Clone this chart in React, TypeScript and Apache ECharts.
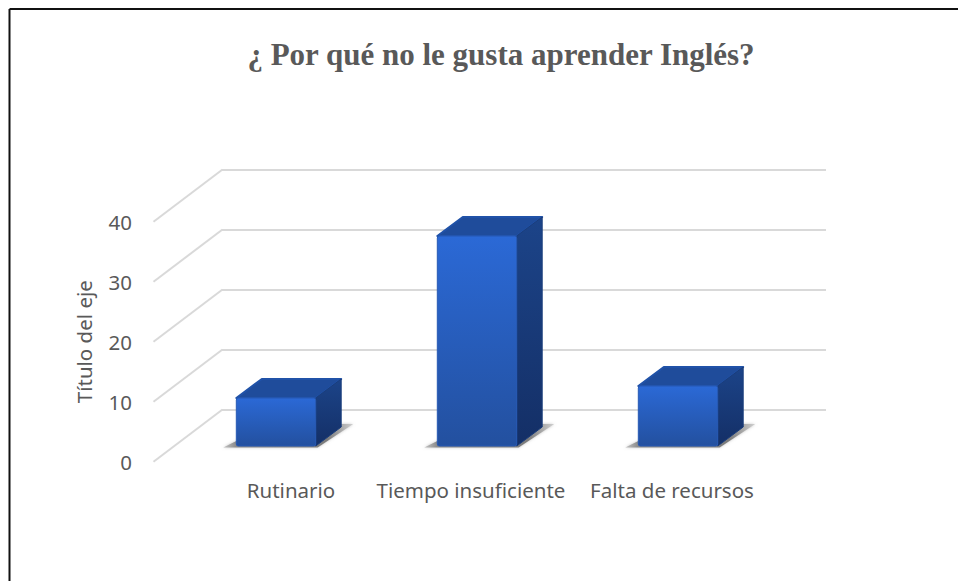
import React, { useEffect, useRef } from "react";
import * as echarts from "echarts";

const titleText = "¿ Por qué no le gusta aprender Inglés?";
const yAxisTitle = "Título del eje";
const categories = ["Rutinario", "Tiempo insuficiente", "Falta de recursos"];
const values = [8, 35, 10];
const labelShifts = [30, -12, -12];
const yTicksMax = 40;
const yTickStep = 10;

const GREY = "#595959";
const FONT = "'Noto Sans', 'Open Sans', sans-serif";
const grad = (a: string, b: string) => new echarts.graphic.LinearGradient(0, 0, 0, 1, [
  { offset: 0, color: a },
  { offset: 1, color: b },
]);

function renderBar(_p: any, api: any) {
  const i = api.value(0);
  const v = api.value(1);
  const [cx, yTop] = api.coord([i, v]);
  const [, y0] = api.coord([i, 0]);
  const w = api.size([1, 0])[0] * 0.395;
  const xl = cx - w / 2;
  const xr = cx + w / 2;
  const dx = 25.5;
  const dy = -19;
  return {
    type: "group",
    children: [
      {
        type: "polygon",
        shape: { points: [[xl - 13, y0 + 1.5], [xr + 2, y0 + 1.5], [xr + dx + 12, y0 + dy - 3], [xr + dx - 2, y0 + dy - 3], [xl, y0 - 5]] },
        style: {
          fill: new echarts.graphic.LinearGradient(0, 0, 1, 0, [
            { offset: 0, color: "#c4c4c4" },
            { offset: 0.1, color: "#8a8a8a" },
            { offset: 0.8, color: "#7c7c7c" },
            { offset: 1, color: "#d0d0d0" },
          ]),
          shadowBlur: 3,
          shadowColor: "rgba(160,160,160,0.6)",
        },
      },
      {
        type: "polygon",
        shape: { points: [[xl, yTop], [xl + dx, yTop + dy], [xr + dx, yTop + dy], [xr, yTop]] },
        style: { fill: "#1f4c9b", stroke: "#2052a8", lineWidth: 2, lineJoin: "round" },
      },
      {
        type: "polygon",
        shape: { points: [[xr, yTop], [xr + dx, yTop + dy], [xr + dx, y0 + dy], [xr, y0]] },
        style: { fill: grad("#1c4489", "#142f66"), stroke: "#1a3d7c", lineWidth: 1, lineJoin: "round" },
      },
      {
        type: "rect",
        shape: { x: xl, y: yTop, width: w, height: y0 - yTop, r: 2 },
        style: { fill: grad("#2b69d6", "#23509f"), stroke: "#2759b4", lineWidth: 1 },
      },
    ],
  };
}

export default function App() {
  const ref = useRef<HTMLDivElement>(null);
  useEffect(() => {
    document.body.style.margin = "0";
    const chart = echarts.init(ref.current!, undefined, { renderer: "svg" });
    chart.setOption({
      animation: false,
      backgroundColor: "#ffffff",
      title: {
        text: titleText,
        left: 496,
        top: 34,
        textAlign: "center",
        textStyle: { fontFamily: "'Liberation Serif', serif", fontWeight: "bold", fontSize: 31, color: GREY },
      },
      grid: [
        { left: 222, top: 169.5, width: 604, height: 240 },
        { left: 153, top: 221.7, width: 69, height: 240 },
        { left: 175.5, top: 206, width: 603, height: 240 },
      ],
      xAxis: [
        { gridIndex: 0, type: "category", show: false, data: categories },
        { gridIndex: 1, type: "category", show: false, data: categories },
        {
          gridIndex: 2,
          type: "category",
          data: categories.map((c, i) => ({
            value: c,
            textStyle: labelShifts[i] > 0 ? { padding: [0, 0, 0, labelShifts[i]] } : { padding: [0, -labelShifts[i], 0, 0] },
          })),
          axisLine: { show: false },
          axisTick: { show: false },
          axisLabel: { color: GREY, fontFamily: FONT, fontSize: 20.5, margin: 33, interval: 0 },
        },
      ],
      yAxis: [
        {
          gridIndex: 0,
          type: "value",
          min: 0,
          max: yTicksMax,
          interval: yTickStep,
          axisLine: { show: false },
          axisTick: { show: false },
          axisLabel: { show: false },
          splitLine: { lineStyle: { color: "#d9d9d9", width: 2 } },
        },
        {
          gridIndex: 1,
          type: "value",
          min: 0,
          max: yTicksMax,
          interval: yTickStep,
          name: yAxisTitle,
          nameLocation: "middle",
          nameGap: 59,
          nameTextStyle: { color: GREY, fontFamily: FONT, fontSize: 20.5 },
          axisLine: { show: false },
          axisTick: { show: false },
          splitLine: { show: false },
          axisLabel: { color: GREY, fontFamily: FONT, fontSize: 20.5, margin: 21 },
        },
        {
          gridIndex: 2,
          type: "value",
          min: 0,
          max: yTicksMax,
          interval: yTickStep,
          show: false,
          splitLine: { show: false },
        },
      ],
      series: [
        {
          type: "custom",
          xAxisIndex: 2,
          yAxisIndex: 2,
          renderItem: renderBar,
          encode: { x: 0, y: 1 },
          data: values.map((v, i) => [i, v]),
          clip: false,
        },
      ],
      graphic: [
        { type: "line", shape: { x1: 153.5, y1: 461.7, x2: 222.5, y2: 409.5 }, style: { stroke: "#d9d9d9", lineWidth: 2 } },
        { type: "line", shape: { x1: 153.5, y1: 401.7, x2: 222.5, y2: 349.5 }, style: { stroke: "#d9d9d9", lineWidth: 2 } },
        { type: "line", shape: { x1: 153.5, y1: 341.7, x2: 222.5, y2: 289.5 }, style: { stroke: "#d9d9d9", lineWidth: 2 } },
        { type: "line", shape: { x1: 153.5, y1: 281.7, x2: 222.5, y2: 229.5 }, style: { stroke: "#d9d9d9", lineWidth: 2 } },
        { type: "line", shape: { x1: 153.5, y1: 221.7, x2: 222.5, y2: 169.5 }, style: { stroke: "#d9d9d9", lineWidth: 2 } },
        { type: "line", shape: { x1: 9.5, y1: 9, x2: 958, y2: 9 }, style: { stroke: "#111111", lineWidth: 2 } },
        { type: "line", shape: { x1: 9.5, y1: 9, x2: 9.5, y2: 581 }, style: { stroke: "#111111", lineWidth: 2 } },
      ],
    });
    return () => chart.dispose();
  }, []);
  return <div ref={ref} style={{ width: 958, height: 581 }} />;
}
